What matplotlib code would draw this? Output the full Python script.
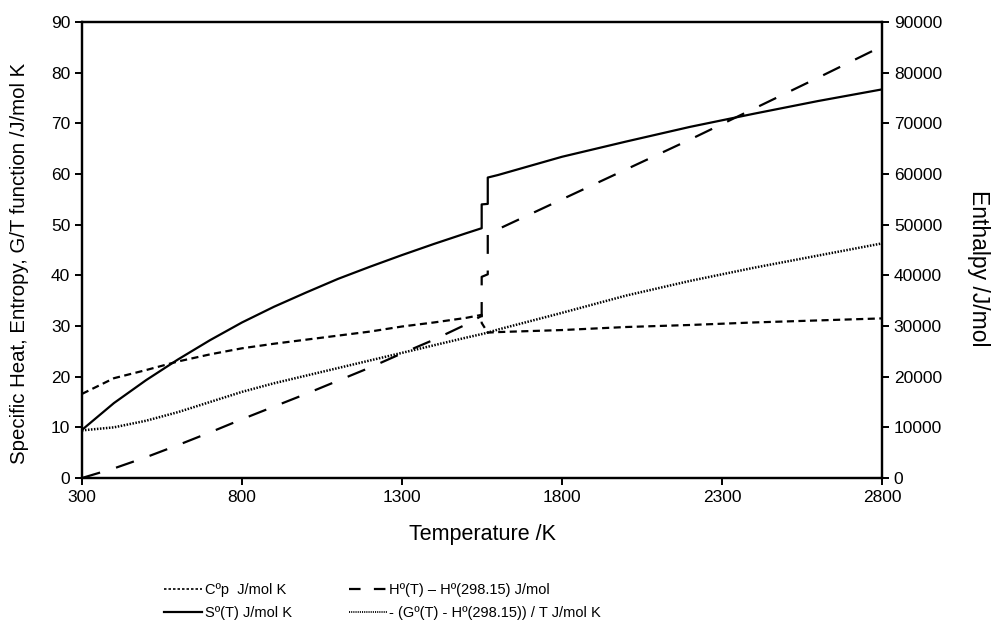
import matplotlib
matplotlib.use("Agg")
import matplotlib.pyplot as plt
from matplotlib.ticker import MultipleLocator
from matplotlib.lines import Line2D

plt.rcParams['font.family'] = ['Liberation Sans', 'DejaVu Sans']

# Temperature (K); repeated values mark the phase-transition steps
T = [300, 400, 500, 600, 700, 800, 900, 1000, 1100, 1200, 1300, 1400, 1500,
     1549, 1549, 1568, 1568, 1600, 1800, 2000, 2200, 2400, 2600, 2800]

cp = [16.6, 19.7, 21.3, 23.0, 24.4, 25.6, 26.5, 27.3, 28.1, 28.9, 29.9, 30.7, 31.6,
      32.2, 30.6, 28.7, 28.7, 28.8, 29.2, 29.8, 30.2, 30.7, 31.1, 31.5]

S = [9.5, 14.8, 19.3, 23.4, 27.2, 30.7, 33.8, 36.6, 39.3, 41.7, 44.0, 46.2, 48.3,
     49.3, 54.0, 54.1, 59.3, 59.8, 63.4, 66.4, 69.3, 71.9, 74.4, 76.7]

gef = [9.4, 10.0, 11.3, 13.0, 15.0, 17.0, 18.7, 20.2, 21.7, 23.2, 24.7, 26.2, 27.7,
       28.4, 28.4, 28.7, 28.7, 29.3, 32.6, 36.0, 38.9, 41.5, 43.9, 46.3]

H = [0, 1900, 4100, 6500, 9000, 11600, 14100, 16600, 19200, 21800, 24600, 27300, 30300,
     32000, 39700, 40200, 48200, 49100, 55000, 60900, 66800, 72900, 79000, 85200]

xticks = [300, 800, 1300, 1800, 2300, 2800]

labels = ["C\u00bap  J/mol K", "S\u00ba(T) J/mol K",
          "H\u00ba(T) \u2013 H\u00ba(298.15) J/mol",
          "- (G\u00ba(T) - H\u00ba(298.15)) / T J/mol K"]

fig = plt.figure(figsize=(9.91, 6.28), dpi=100)
ax = fig.add_axes([82/991, 1-478/628, 800/991, 456/628])
ax2 = ax.twinx()

lw = 1.6
cp_style = (0, (3.2, 2.0))
h_style = (0, (8.5, 7.5))
g_style = (0, (0.6, 0.6))
ax.plot(T, cp, color='black', lw=lw, linestyle=cp_style)
ax.plot(T, S, color='black', lw=lw, linestyle='-')
ax.plot(T, gef, color='black', lw=1.8, linestyle=g_style)
ax2.plot(T, H, color='black', lw=lw, linestyle=h_style)

ax.set_xlim(300, 2800)
ax.set_ylim(0, 90)
ax2.set_ylim(0, 90000)
ax.set_xticks(xticks)
ax.yaxis.set_major_locator(MultipleLocator(10))
ax2.yaxis.set_major_locator(MultipleLocator(10000))

for a in (ax, ax2):
    for sp in a.spines.values():
        sp.set_linewidth(1.6)
        sp.set_color('black')
    a.tick_params(direction='out', length=5, width=1.4, labelsize=12.5, colors='black')

ax.set_xlabel("Temperature /K", fontsize=15.5)
ax.xaxis.set_label_coords(0.5, -0.100)
ax.set_ylabel("Specific Heat, Entropy, G/T function /J/mol K", fontsize=14.7)
ax.yaxis.set_label_coords(-0.066, 0.47)
ax2.set_ylabel("Enthalpy /J/mol", fontsize=16.5, rotation=270, va='center')
ax2.yaxis.set_label_coords(1.12, 0.46)

handles = [Line2D([], [], color='black', lw=1.2, linestyle=(0, (1.5, 1.2))),
           Line2D([], [], color='black', lw=1.6, linestyle='-'),
           Line2D([], [], color='black', lw=1.6, linestyle=(0, (5.2, 6.0))),
           Line2D([], [], color='black', lw=1.3, linestyle=(0, (0.6, 0.6)))]
fig.legend(handles, labels, ncol=2, loc='center', bbox_to_anchor=(0.386, 0.042),
           frameon=False, fontsize=10.5, handlelength=2.6, handletextpad=0.2,
           columnspacing=3.9, labelspacing=0.6)

fig.savefig("out.png", dpi=100)
